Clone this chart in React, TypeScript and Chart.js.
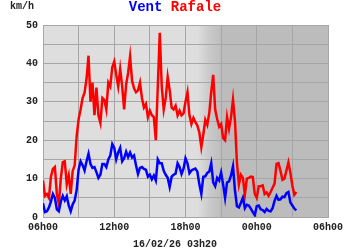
import React, { useEffect, useRef } from "react";
import { Chart, registerables } from "chart.js";

Chart.register(...registerables);

// time axis: minutes since 06h00, samples every 10 minutes, last at 03h20
const START_HOUR = 6;
const STEP_MIN = 10;
const X_MAX_MIN = 1440;
const NIGHT_START_MIN = 780; // ~19h00
const NIGHT_FULL_MIN = 905; // ~21h05
const DATE_LABEL = "16/02/26 03h20";
const UNIT_LABEL = "km/h";
const SERIES_NAMES = ["Vent", "Rafale"];

const rafale = [
  9.5, 5.5, 6, 5, 10.5, 12.5, 13, 6, 3.5, 10, 14.3, 14.5, 8.5, 10.8, 6, 12,
  13.4, 21, 25.5, 28, 31, 32.4, 36, 42, 30, 35, 26.5, 33.7, 26.5, 24.5, 31, 30.5,
  28, 35, 34, 39, 40.5, 37, 34, 38.5, 34, 28, 34.5, 37.5, 41.8, 35.5, 33.5, 32.5,
  33, 35, 31, 28.5, 29.4, 26, 27.7, 26.5, 26, 20, 34, 48, 34, 28,
  31, 36.5, 33, 28.5, 28, 29, 26.5, 27.7, 26.5, 27, 30, 32.5, 26.5, 24.2, 25.8, 24.7,
  23.8, 22, 18.2, 21.5, 25.3, 24, 27, 32.5, 37, 28, 25.5, 23.5, 24.2, 20.6, 20, 26,
  23, 26, 30.6, 25, 14, 8.5, 11, 10.2, 5.8, 10, 10.2, 10.5, 10.4, 6, 5, 8,
  8, 8.2, 6, 6.4, 5.5, 6.5, 7.6, 8.7, 13.8, 14, 12, 9.7, 10, 12.1, 14.2, 11.5,
  8.2, 5.8, 6.5,
];

const vent = [
  3.6, 1.3, 1.5, 2.5, 4, 6, 5, 2, 1.5, 4, 5.5, 4.3, 5.4, 3, 1.5, 3.3,
  4.3, 7, 12.4, 14.5, 13.5, 12.1, 14.5, 16.5, 13.8, 12.8, 13, 11.7, 10.2, 11, 13.8, 13.8,
  13, 15, 16, 19, 18, 15, 16.8, 18, 14.5, 15.3, 17, 15.6, 16.8, 15.5, 16, 13.5,
  11.2, 12.8, 13, 12.5, 12.3, 10.5, 11, 9.8, 10.8, 9.5, 15, 14, 14, 12,
  11, 10.2, 7.8, 10.5, 11, 11.3, 14, 13, 11.2, 12.6, 15.3, 14, 11.4, 12.1, 12.4, 12.6,
  11.8, 8.5, 6, 10.5, 10.6, 11.5, 11.8, 14, 9, 8, 10.2, 9.5, 11.6, 8.5, 5, 9,
  9.3, 10.8, 13.2, 6.9, 2.8, 2.5, 3.7, 5, 2.3, 3.2, 3, 2.2, 1.3, 0.5, 2.8, 3,
  2, 1.8, 1.3, 2.1, 1.6, 1.5, 2.3, 4.2, 5.5, 4.5, 4.6, 5.3, 5.2, 6.2, 6.5, 3.8,
  3, 2.2, 1.7,
];

const toPoints = (arr: number[]) => arr.map((v, i) => ({ x: i * STEP_MIN, y: v }));

const MONO = "'Liberation Mono', 'DejaVu Sans Mono', monospace";

const bgPlugin = {
  id: "nightBg",
  beforeDraw(chart: any) {
    const { ctx, chartArea, scales } = chart;
    const { left, right, top, bottom } = chartArea;
    const x = scales.x;
    const g0 = x.getPixelForValue(NIGHT_START_MIN);
    const g1 = x.getPixelForValue(NIGHT_FULL_MIN);
    const grad = ctx.createLinearGradient(g0, 0, g1, 0);
    grad.addColorStop(0, "#dedede");
    grad.addColorStop(0.5, "#c9c9c9");
    grad.addColorStop(1, "#bcbcbc");
    ctx.save();
    ctx.fillStyle = grad;
    ctx.fillRect(left, top, right - left, bottom - top);
    ctx.restore();
  },
};

const textPlugin = {
  id: "texts",
  afterDraw(chart: any) {
    const { ctx, width } = chart;
    ctx.save();
    ctx.textBaseline = "middle";
    ctx.font = `bold 10px ${MONO}`;
    ctx.fillStyle = "#222";
    ctx.textAlign = "left";
    ctx.fillText(UNIT_LABEL, 10, 6);
    ctx.textAlign = "center";
    ctx.fillText(DATE_LABEL, width / 2, 244);

    ctx.font = `bold 14px ${MONO}`;
    ctx.textAlign = "left";
    const a = SERIES_NAMES[0] + " ";
    const b = SERIES_NAMES[1];
    const wa = ctx.measureText(a).width;
    const wb = ctx.measureText(b).width;
    const x0 = width / 2 - (wa + wb) / 2;
    ctx.fillStyle = "#0000ff";
    ctx.fillText(SERIES_NAMES[0], x0, 7);
    ctx.fillStyle = "#ff0000";
    ctx.fillText(b, x0 + wa, 7);
    ctx.restore();
  },
};

export default function App() {
  const ref = useRef<HTMLCanvasElement | null>(null);
  useEffect(() => {
    if (!ref.current) return;
    const gridColor = "#a6a6a6";
    const chart = new Chart(ref.current, {
      type: "line",
      data: {
        datasets: [
          {
            label: SERIES_NAMES[0],
            data: toPoints(vent),
            borderColor: "#0000ff",
            borderWidth: 2.5,
            pointRadius: 0,
            tension: 0,
          },
          {
            label: SERIES_NAMES[1],
            data: toPoints(rafale),
            borderColor: "#ff0000",
            borderWidth: 2.5,
            pointRadius: 0,
            tension: 0,
          },
        ],
      },
      options: {
        animation: false,
        responsive: false,
        layout: { padding: { left: 0, right: 22, top: 25, bottom: 0 } },
        plugins: {
          legend: { display: false },
          tooltip: { enabled: false },
          title: { display: false },
        },
        scales: {
          x: {
            type: "linear",
            min: 0,
            max: X_MAX_MIN,
            afterFit: (s: any) => {
              s.height = 33;
            },
            grid: { color: gridColor, drawTicks: false, lineWidth: 1 },
            border: { color: gridColor },
            ticks: {
              stepSize: 180,
              autoSkip: false,
              maxRotation: 0,
              padding: 4,
              color: "#222",
              font: { family: MONO, size: 10, weight: "bold" },
              callback: (v: any) => {
                const m = Number(v);
                if (m % 360 !== 0) return "";
                const h = (START_HOUR + m / 60) % 24;
                return `${String(h).padStart(2, "0")}h00`;
              },
            },
          },
          y: {
            min: 0,
            max: 50,
            afterFit: (s: any) => {
              s.width = 43;
            },
            grid: { color: gridColor, drawTicks: false, lineWidth: 1 },
            border: { color: gridColor },
            ticks: {
              stepSize: 5,
              autoSkip: false,
              padding: 5,
              color: "#222",
              font: { family: MONO, size: 10, weight: "bold" },
              callback: (v: any) => (Number(v) % 10 === 0 ? String(v) : ""),
            },
          },
        },
      },
      plugins: [bgPlugin, textPlugin],
    } as any);
    return () => chart.destroy();
  }, []);
  return (
    <div style={{ position: "fixed", left: 0, top: 0, width: 350, height: 250, background: "#fff" }}>
      <canvas ref={ref} width={350} height={250} />
    </div>
  );
}
